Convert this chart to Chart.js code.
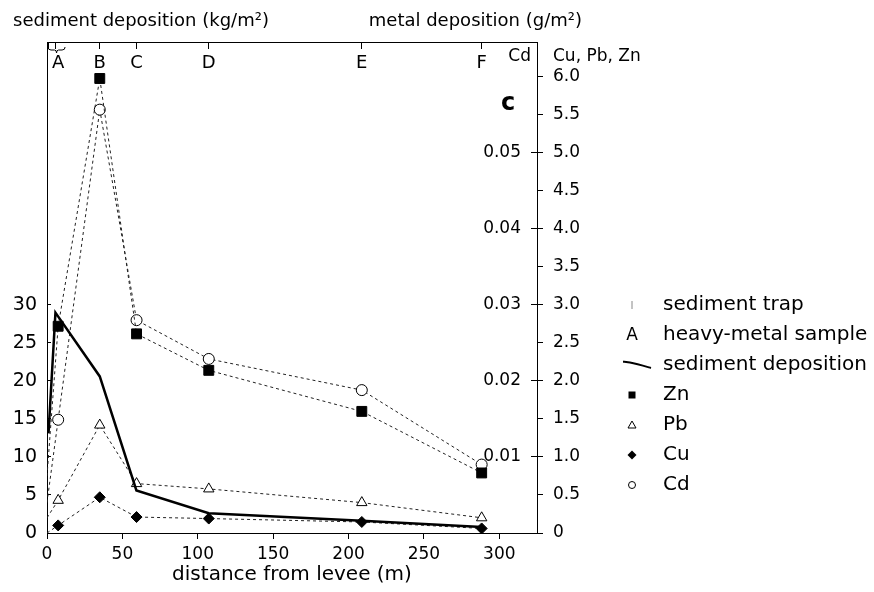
<!DOCTYPE html>
<html>
<head>
<meta charset="utf-8">
<script src="https://cdn.jsdelivr.net/npm/chart.js@4.4.1/dist/chart.umd.min.js"></script>
<style>
  html, body { margin: 0; padding: 0; background: #fff; }
</style>
</head>
<body>
<canvas id="chart" width="874" height="592"></canvas>
<script>
// sediment traps (distance in m) and deposition measured there (kg/m2)
const trapX = [1.0, 5.6, 35, 59.3, 107.3, 208.8, 288.3];
const sediment = [13.1, 29.0, 20.6, 5.6, 2.6, 1.6, 0.8];

// heavy-metal samples (first point is the levee itself, no marker)
const sampleNames = ['A', 'B', 'C', 'D', 'E', 'F'];
const metalX = [0, 7.4, 35, 59.4, 107.3, 208.8, 288.3];
const zn = [0.75, 2.72, 5.98, 2.62, 2.14, 1.60, 0.79];
const pb = [0.20, 0.43, 1.42, 0.65, 0.58, 0.40, 0.20];
const cu = [0.00, 0.10, 0.47, 0.21, 0.19, 0.145, 0.06];
const cd = [0.004, 0.0149, 0.0557, 0.028, 0.0229, 0.0188, 0.009];

// tick labels
const distanceTicks = [0, 50, 100, 150, 200, 250, 300];
const sedimentTicks = [0, 5, 10, 15, 20, 25, 30];
const metalTicks = [0, 0.5, 1.0, 1.5, 2.0, 2.5, 3.0, 3.5, 4.0, 4.5, 5.0, 5.5, 6.0];
const cdTicks = [0.01, 0.02, 0.03, 0.04, 0.05];

const FONT = 'DejaVu Sans';
const tickFont = { family: FONT, size: 17 };
const METAL_MAX = 6.46;

const pts = (xs, ys) => xs.map((x, i) => ({ x, y: ys[i] }));
const radii = (r) => metalX.map((x, i) => (i === 0 ? 0 : r));

function legendMarker(draw) {
  const c = document.createElement('canvas');
  c.width = 62;
  c.height = 20;
  const g = c.getContext('2d');
  g.translate(20, 10);
  g.strokeStyle = '#000';
  g.fillStyle = '#000';
  g.lineWidth = 1;
  draw(g);
  return c;
}

const legendItems = [
  { text: 'sediment trap', pointStyle: legendMarker(g => {
      g.strokeStyle = '#888'; g.beginPath(); g.moveTo(0, -4); g.lineTo(0, 4); g.stroke();
    }) },
  { text: 'heavy-metal sample', pointStyle: legendMarker(g => {
      g.font = '17px "' + FONT + '"'; g.textAlign = 'center'; g.textBaseline = 'middle'; g.fillText('A', 0, 1);
    }) },
  { text: 'sediment deposition', pointStyle: legendMarker(g => {
      g.lineWidth = 2; g.beginPath(); g.moveTo(-19, -3); g.bezierCurveTo(-8, -5, 5, -1, 19, 3); g.stroke();
    }) },
  { text: 'Zn', pointStyle: legendMarker(g => { g.fillRect(-3.5, -3.5, 7, 7); }) },
  { text: 'Pb', pointStyle: legendMarker(g => {
      g.beginPath(); g.moveTo(0, -4); g.lineTo(4, 3); g.lineTo(-4, 3); g.closePath(); g.stroke();
    }) },
  { text: 'Cu', pointStyle: legendMarker(g => {
      g.beginPath(); g.moveTo(0, -4.5); g.lineTo(4.5, 0); g.lineTo(0, 4.5); g.lineTo(-4.5, 0); g.closePath(); g.fill();
    }) },
  { text: 'Cd', pointStyle: legendMarker(g => { g.beginPath(); g.arc(0, 0, 3.5, 0, Math.PI * 2); g.stroke(); }) }
].map((it, i) => Object.assign({ fillStyle: '#000', strokeStyle: '#000', lineWidth: 1, hidden: false, index: i, fontColor: '#000' }, it));

const extras = {
  id: 'extras',
  afterDraw(chart) {
    const { ctx, chartArea: a, scales } = chart;
    ctx.save();
    ctx.fillStyle = '#000';
    ctx.textBaseline = 'middle';
    ctx.font = '18px "' + FONT + '"';
    ctx.textAlign = 'left';
    ctx.fillText('sediment deposition (kg/m\u00b2)', 13, a.top - 21);
    ctx.textAlign = 'right';
    ctx.fillText('metal deposition (g/m\u00b2)', a.right + 45, a.top - 21);
    ctx.font = '17px "' + FONT + '"';
    ctx.fillText('Cd', a.right - 6, a.top + 15);
    ctx.textAlign = 'left';
    ctx.fillText('Cu, Pb, Zn', a.right + 16, a.top + 15);
    ctx.font = 'bold 24px "' + FONT + '"';
    ctx.textAlign = 'center';
    ctx.fillText('c', a.right - 29, a.top + 62);

    // brace under the two traps of sample A
    const x0 = scales.x.getPixelForValue(0) + 1;
    const x1 = scales.x.getPixelForValue(12);
    const xm = (x0 + x1) / 2;
    const y = a.top + 5;
    ctx.strokeStyle = '#000';
    ctx.lineWidth = 1;
    ctx.beginPath();
    ctx.moveTo(x0, y);
    ctx.quadraticCurveTo(x0, y + 3, x0 + 3, y + 3);
    ctx.lineTo(xm - 2, y + 3);
    ctx.quadraticCurveTo(xm, y + 3, xm, y + 6);
    ctx.quadraticCurveTo(xm, y + 3, xm + 2, y + 3);
    ctx.lineTo(x1 - 3, y + 3);
    ctx.quadraticCurveTo(x1, y + 3, x1, y);
    ctx.stroke();
    ctx.restore();
  }
};

const dashed = { borderColor: '#222', borderWidth: 1, borderDash: [3, 3], pointBorderColor: '#000', pointBorderWidth: 1, yAxisID: 'yMetal', tension: 0 };

new Chart(document.getElementById('chart'), {
  type: 'line',
  data: {
    datasets: [
      { label: 'sediment deposition', data: pts(trapX, sediment), yAxisID: 'ySed', borderColor: '#000', borderWidth: 2.5, pointRadius: 0, tension: 0 },
      Object.assign({}, dashed, { label: 'Zn', data: pts(metalX, zn), pointStyle: 'rect', pointRadius: radii(7), pointBackgroundColor: '#000' }),
      Object.assign({}, dashed, { label: 'Pb', data: pts(metalX, pb), pointStyle: 'triangle', pointRadius: radii(6), pointBackgroundColor: '#fff' }),
      Object.assign({}, dashed, { label: 'Cu', data: pts(metalX, cu), pointStyle: 'rectRot', pointRadius: radii(5.5), pointBackgroundColor: '#000' }),
      Object.assign({}, dashed, { label: 'Cd', data: pts(metalX, cd), yAxisID: 'yCd', pointStyle: 'circle', pointRadius: radii(5.5), pointBackgroundColor: '#fff' })
    ]
  },
  options: {
    responsive: false,
    animation: false,
    layout: { padding: { top: 42, left: 0, right: 0, bottom: 0 } },
    plugins: {
      tooltip: { enabled: false },
      legend: {
        position: 'right',
        align: 'start',
        fullSize: false,
        maxWidth: 251,
        title: { display: true, text: ' ', padding: { top: 231, bottom: 0 }, font: { size: 10 } },
        labels: {
          usePointStyle: true,
          boxWidth: 20,
          padding: 10,
          color: '#000',
          font: { family: FONT, size: 20 },
          generateLabels: () => legendItems
        }
      }
    },
    scales: {
      x: {
        type: 'linear', position: 'bottom', min: 0, max: 325,
        afterBuildTicks: s => { s.ticks = distanceTicks.map(v => ({ value: v })); },
        afterFit: s => { s.height = 59; },
        grid: { drawOnChartArea: false, tickLength: 6, color: '#000' },
        border: { color: '#000' },
        ticks: { font: tickFont, color: '#000', padding: 5, maxRotation: 0, autoSkip: false },
        title: { display: true, text: 'distance from levee (m)', color: '#000', font: { family: FONT, size: 20 }, padding: { top: 0, bottom: 5 } }
      },
      // sediment trap marks hanging from the top frame
      xTrap: {
        type: 'linear', position: { yMetal: METAL_MAX }, min: 0, max: 325,
        afterBuildTicks: s => { s.ticks = trapX.map(v => ({ value: v })); },
        grid: { drawOnChartArea: false, tickLength: 6, color: '#000' },
        border: { color: '#000' },
        ticks: { display: false }
      },
      // heavy-metal sample letters under the top frame
      xSample: {
        type: 'linear', position: { yMetal: METAL_MAX }, min: 0, max: 325,
        afterBuildTicks: s => { s.ticks = metalX.slice(1).map(v => ({ value: v })); },
        grid: { display: false, drawTicks: false },
        border: { display: false },
        ticks: { callback: (v, i) => sampleNames[i], padding: 11, font: { family: FONT, size: 18 }, color: '#000', maxRotation: 0, autoSkip: false }
      },
      ySed: {
        type: 'linear', position: 'left', min: 0, max: 64.6,
        afterBuildTicks: s => { s.ticks = sedimentTicks.map(v => ({ value: v })); },
        afterFit: s => { s.width = 47; },
        grid: { drawOnChartArea: false, tickLength: -4, color: '#000' },
        border: { color: '#000' },
        ticks: { font: { family: FONT, size: 19 }, color: '#000', padding: 14 }
      },
      yCd: {
        type: 'linear', position: 'right', weight: 0, min: 0, max: 0.0646,
        afterBuildTicks: s => { s.ticks = cdTicks.map(v => ({ value: v })); },
        afterFit: s => { s.width = 0; },
        grid: { drawOnChartArea: false, tickLength: -6, color: '#000' },
        border: { display: false },
        ticks: { mirror: true, padding: -16, font: tickFont, color: '#000', callback: v => v.toFixed(2) }
      },
      yMetal: {
        type: 'linear', position: 'right', weight: 1, min: 0, max: METAL_MAX,
        afterBuildTicks: s => { s.ticks = metalTicks.map(v => ({ value: v })); },
        afterFit: s => { s.width = 86; },
        grid: { drawOnChartArea: false, tickLength: 6, color: '#000' },
        border: { color: '#000' },
        ticks: { font: tickFont, color: '#000', padding: 10, callback: v => (v === 0 ? '0' : v.toFixed(1)) }
      }
    }
  },
  plugins: [extras]
});
</script>
</body>
</html>
